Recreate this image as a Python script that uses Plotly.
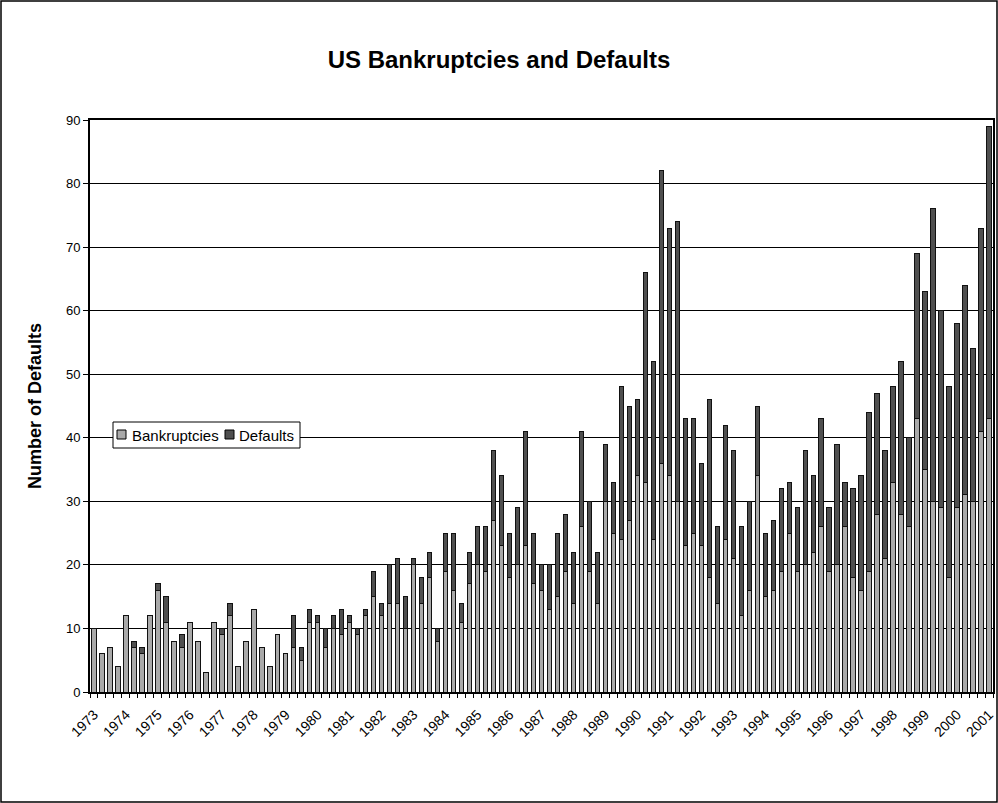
import plotly.graph_objects as go

# Quarterly categories 1973Q1 .. 2001Q1
quarters = [f"{y}Q{q}" for y in range(1973, 2002) for q in range(1, 5)][:113]

series_names = ["Bankruptcies", "Defaults"]
series_colors = ["#a9a9a9", "#4f4f4f"]

bankruptcies = [
    10, 6, 7, 4, 12, 7, 6, 12, 16, 11, 8, 7, 11, 8, 3, 11, 9, 12, 4, 8,
    13, 7, 4, 9, 6, 7, 5, 11, 11, 7, 10, 9, 11, 9, 12, 15, 12, 14, 14, 10,
    20, 14, 18, 8, 19, 16, 11, 17, 20, 19, 27, 23, 18, 20, 23, 17, 16, 13, 15, 19,
    14, 26, 19, 14, 30, 25, 24, 27, 34, 33, 24, 36, 34, 30, 23, 25, 23, 18, 14, 24,
    21, 12, 16, 34, 15, 16, 19, 25, 19, 20, 22, 26, 19, 20, 26, 18, 16, 19, 28, 21,
    33, 28, 26, 43, 35, 30, 29, 18, 29, 31, 30, 41, 43,
]
defaults = [
    0, 0, 0, 0, 0, 1, 1, 0, 1, 4, 0, 2, 0, 0, 0, 0, 1, 2, 0, 0,
    0, 0, 0, 0, 0, 5, 2, 2, 1, 3, 2, 4, 1, 1, 1, 4, 2, 6, 7, 5,
    1, 4, 4, 2, 6, 9, 3, 5, 6, 7, 11, 11, 7, 9, 18, 8, 4, 7, 10, 9,
    8, 15, 11, 8, 9, 8, 24, 18, 12, 33, 28, 46, 39, 44, 20, 18, 13, 28, 12, 18,
    17, 14, 14, 11, 10, 11, 13, 8, 10, 18, 12, 17, 10, 19, 7, 14, 18, 25, 19, 17,
    15, 24, 14, 26, 28, 46, 31, 30, 29, 33, 24, 32, 46,
]

pos = list(range(len(quarters)))
label_idx = [i for i in pos if quarters[i].endswith("Q1")]
label_txt = [quarters[i][:4] for i in label_idx]

FONT = "Liberation Sans, Arial, sans-serif"

fig = go.Figure()
for name, vals, col in zip(series_names, [bankruptcies, defaults], series_colors):
    fig.add_trace(go.Bar(
        x=pos, y=vals, name=name, showlegend=False,
        marker=dict(color=col, line=dict(color="#111111", width=1)),
    ))
# invisible trace to carry the boundary-tick axis
fig.add_trace(go.Scatter(x=[pos[0]], y=[0], xaxis="x2", mode="markers",
                         marker=dict(opacity=0), showlegend=False, hoverinfo="skip"))

W, H = 998, 803
ml, mr, mt, mb = 90, 5, 120, 111
pw, ph = W - ml - mr, H - mt - mb


def px(xp):
    return (xp - ml) / pw


def py(yp):
    return (ml * 0 + (H - mb) - yp) / ph


shapes = [
    # outer chart border
    dict(type="rect", xref="paper", yref="paper",
         x0=px(1), x1=px(W - 1), y0=py(H - 1), y1=py(1),
         line=dict(color="black", width=1.5), fillcolor="rgba(0,0,0,0)",
         layer="below"),
    # legend box
    dict(type="rect", xref="paper", yref="paper",
         x0=px(113), x1=px(300), y0=py(448), y1=py(422),
         line=dict(color="black", width=1), fillcolor="white", layer="above"),
]
annotations = []
legend_swatch_x = [117, 225]
legend_text_x = [130, 237]
for name, col, sx, tx in zip(series_names, series_colors, legend_swatch_x, legend_text_x):
    shapes.append(dict(type="rect", xref="paper", yref="paper",
                       x0=px(sx), x1=px(sx + 9), y0=py(439), y1=py(430),
                       line=dict(color="black", width=1), fillcolor=col,
                       layer="above"))
    annotations.append(dict(text=name, xref="paper", yref="paper",
                            x=px(tx), y=py(435.5), xanchor="left",
                            yanchor="middle", showarrow=False,
                            font=dict(family=FONT, size=15, color="black")))

fig.update_layout(
    width=W, height=H,
    margin=dict(l=ml, r=mr, t=mt, b=mb, autoexpand=False),
    barmode="stack", bargap=0.45,
    paper_bgcolor="white", plot_bgcolor="white",
    font=dict(family=FONT, color="black", size=13),
    showlegend=False,
    title=dict(text="<b>US Bankruptcies and Defaults</b>", x=0.5, xref="container",
               xanchor="center", y=1 - 60 / H, yanchor="middle",
               font=dict(family=FONT, size=24, color="black")),
    xaxis=dict(range=[-0.5, len(pos) - 0.5], tickmode="array",
               tickvals=label_idx, ticktext=label_txt, tickangle=-45,
               ticks="", showgrid=False, zeroline=False,
               ticklabelstandoff=7,
               showline=True, linecolor="black", linewidth=2, mirror=True,
               tickfont=dict(family=FONT, size=14, color="black")),
    xaxis2=dict(overlaying="x", side="bottom", range=[-0.5, len(pos) - 0.5],
                tickmode="linear", tick0=-0.5, dtick=1, ticks="outside",
                ticklen=5, tickcolor="black", tickwidth=1,
                showticklabels=False, showgrid=False, zeroline=False,
                showline=False),
    yaxis=dict(range=[0, 90], dtick=10, tickmode="linear",
               showgrid=True, gridcolor="black", gridwidth=1,
               zeroline=False, ticks="outside", ticklen=5, tickcolor="black",
               showline=True, linecolor="black", linewidth=2, mirror=True,
               tickfont=dict(family=FONT, size=13, color="black"),
               title=dict(text="<b>Number of Defaults</b>", standoff=20,
                          font=dict(family=FONT, size=18, color="black"))),
    shapes=shapes,
    annotations=annotations,
)

fig.write_html(
    "out.html",
    config={"displayModeBar": False},
    post_script="document.body.style.margin='0';document.body.style.overflow='hidden';",
)
